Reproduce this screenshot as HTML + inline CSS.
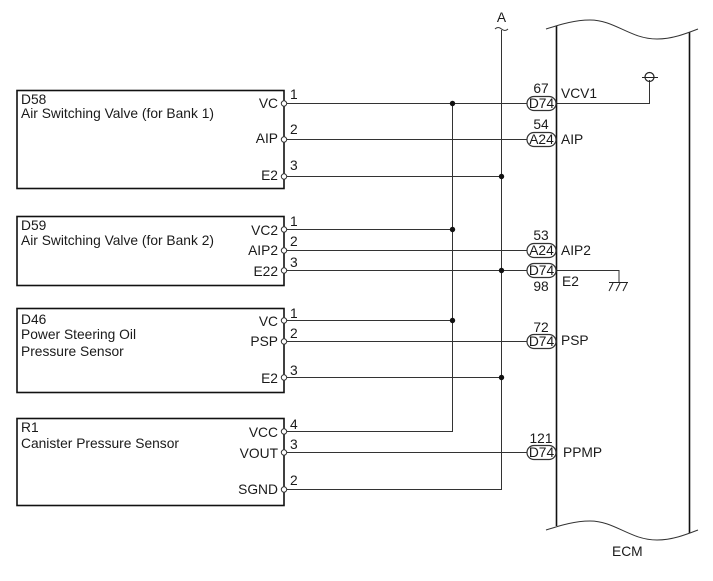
<!DOCTYPE html>
<html><head><meta charset="utf-8"><style>
html,body{margin:0;padding:0;background:#fff}
svg{display:block}
text{font-family:"Liberation Sans",sans-serif;font-size:13.8px;fill:#1a1a1a}
.e{text-anchor:end}.m{text-anchor:middle}
.w{stroke:#333;stroke-width:1;fill:none}
.b{stroke:#111;stroke-width:1.6;fill:#fff}
.p{fill:#fff;stroke:#333;stroke-width:1.2}
.o{fill:#fff;stroke:#333;stroke-width:1}
</style></head><body>
<svg width="713" height="581" viewBox="0 0 713 581" xmlns="http://www.w3.org/2000/svg">
<rect x="17" y="90.500" width="267" height="98" class="b"/>
<rect x="17" y="216.500" width="267" height="69" class="b"/>
<rect x="17" y="308.500" width="267" height="84" class="b"/>
<rect x="17" y="418.500" width="267" height="87" class="b"/>

<path class="w" d="M284 103.500H527M284 139.500H527M284 176.500H501.500M284 229.500H452M284 250.500H527M284 270.500H527M284 320.500H452M284 341.500H527M284 377.500H501.500M284 431.500H452.500V103M284 452.500H527M284 489.500H501.500V30"/>
<path class="w" d="M556 103.500H649.500V80M556 270.500H619V282"/>
<path class="w" d="M495 29Q498 26 501.500 29T508 29"/>
<path d="M556.500 26V526M689.500 32V533" stroke="#111" stroke-width="1.6" fill="none"/>
<path class="w" d="M546 29C562 24 575 20 590 20C615 20 630 39 657 39C672 39 685 34 698 29"/>
<path class="w" d="M546 530C562 525 575 521 590 521C615 521 630 540 657 540C672 540 685 535 698 530"/>

<g fill="#111">
<circle cx="452.500" cy="103.500" r="2.700"/><circle cx="452.500" cy="229.500" r="2.700"/><circle cx="452.500" cy="320.500" r="2.700"/>
<circle cx="501.500" cy="176.500" r="2.700"/><circle cx="501.500" cy="270.500" r="2.700"/><circle cx="501.500" cy="377.500" r="2.700"/>
</g>

<g class="o">
<circle class="o" cx="284" cy="103.500" r="2.700"/><circle class="o" cx="284" cy="139.500" r="2.700"/><circle class="o" cx="284" cy="176.500" r="2.700"/>
<circle class="o" cx="284" cy="229.500" r="2.700"/><circle class="o" cx="284" cy="250.500" r="2.700"/><circle class="o" cx="284" cy="270.500" r="2.700"/>
<circle class="o" cx="284" cy="320.500" r="2.700"/><circle class="o" cx="284" cy="341.500" r="2.700"/><circle class="o" cx="284" cy="377.500" r="2.700"/>
<circle class="o" cx="284" cy="431.500" r="2.700"/><circle class="o" cx="284" cy="452.500" r="2.700"/><circle class="o" cx="284" cy="489.500" r="2.700"/>
</g>

<rect class="p" x="527" y="96.500" width="29" height="14" rx="7"/>
<rect class="p" x="527" y="132.500" width="29" height="14" rx="7"/>
<rect class="p" x="527" y="243.500" width="29" height="14" rx="7"/>
<rect class="p" x="527" y="263.500" width="29" height="14" rx="7"/>
<rect class="p" x="527" y="334.500" width="29" height="14" rx="7"/>
<rect class="p" x="527" y="445.500" width="29" height="14" rx="7"/>

<circle cx="649.500" cy="77" r="4.500" fill="none" stroke="#222" stroke-width="1.2"/>
<path d="M642 77.500H658" stroke="#222" stroke-width="1"/>
<path d="M609 282.500H628M613 283L609 291M620 283L616 291M627 283L623 291" stroke="#222" stroke-width="1" fill="none"/>

<text x="21" y="104">D58</text><text x="21" y="118">Air Switching Valve (for Bank 1)</text>
<text x="21" y="230">D59</text><text x="21" y="245">Air Switching Valve (for Bank 2)</text>
<text x="21" y="324">D46</text><text x="21" y="339">Power Steering Oil</text><text x="21" y="356">Pressure Sensor</text>
<text x="21" y="432">R1</text><text x="21" y="448">Canister Pressure Sensor</text>

<text class="e" x="278" y="108">VC</text><text class="e" x="278" y="143">AIP</text><text class="e" x="278" y="180">E2</text>
<text class="e" x="278" y="235">VC2</text><text class="e" x="278" y="255">AIP2</text><text class="e" x="278" y="276">E22</text>
<text class="e" x="278" y="326">VC</text><text class="e" x="278" y="346">PSP</text><text class="e" x="278" y="383">E2</text>
<text class="e" x="278" y="437">VCC</text><text class="e" x="278" y="458">VOUT</text><text class="e" x="278" y="494">SGND</text>

<text x="290" y="99">1</text><text x="290" y="134">2</text><text x="290" y="170">3</text>
<text x="290" y="226">1</text><text x="290" y="246">2</text><text x="290" y="267">3</text>
<text x="290" y="318">1</text><text x="290" y="338">2</text><text x="290" y="375">3</text>
<text x="290" y="429">4</text><text x="290" y="449">3</text><text x="290" y="485">2</text>

<text class="m" x="541" y="93">67</text><text class="m" x="541" y="129">54</text><text class="m" x="541" y="240">53</text>
<text class="m" x="541" y="291">98</text><text class="m" x="541" y="332">72</text><text class="m" x="541" y="443">121</text>

<text class="m" x="541.500" y="108">D74</text><text class="m" x="541.500" y="144">A24</text><text class="m" x="541.500" y="255">A24</text>
<text class="m" x="541.500" y="275">D74</text><text class="m" x="541.500" y="346">D74</text><text class="m" x="541.500" y="457">D74</text>

<text x="561" y="98">VCV1</text><text x="561" y="144">AIP</text><text x="561" y="255">AIP2</text>
<text x="562" y="286">E2</text><text x="561" y="345">PSP</text><text x="563" y="457">PPMP</text>
<text x="612" y="556">ECM</text>
<text class="m" x="501.500" y="22">A</text>
</svg>
</body></html>
